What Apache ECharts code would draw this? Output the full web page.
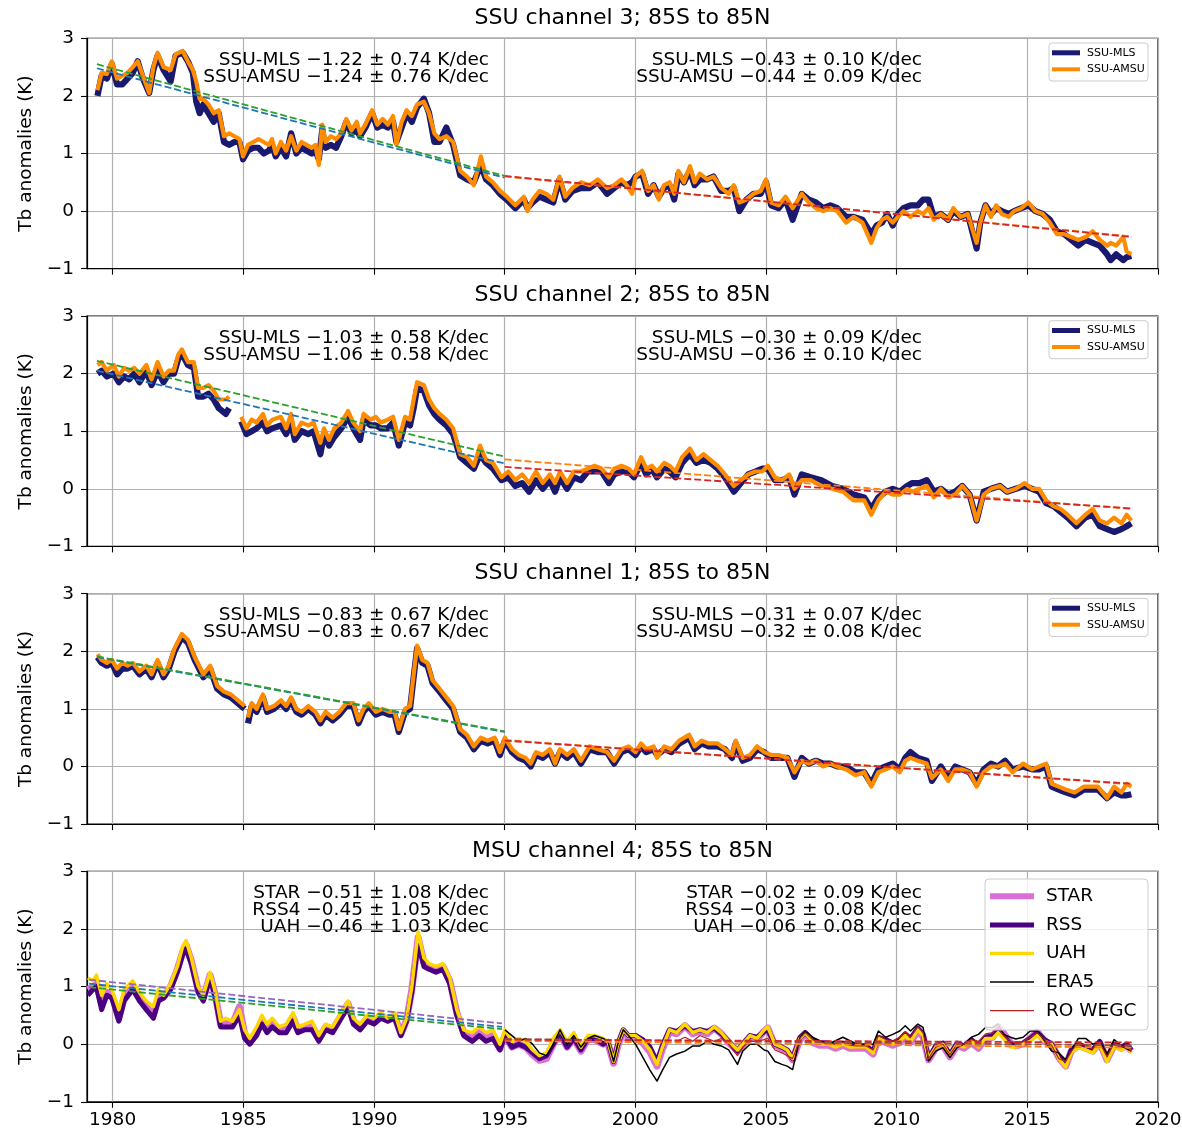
<!DOCTYPE html>
<html><head><meta charset="utf-8">
<script src="https://cdn.jsdelivr.net/npm/echarts@6/dist/echarts.min.js"></script>
<style>html,body{margin:0;padding:0;background:#fff}#c{width:1182px;height:1132px}</style>
</head><body><div id="c"></div><script>
// ---------------- DATA ----------------
const xTicks = [1980, 1985, 1990, 1995, 2000, 2005, 2010, 2015, 2020];
const yTicks = [-1, 0, 1, 2, 3];
const panelTitles = ['SSU channel 3; 85S to 85N', 'SSU channel 2; 85S to 85N', 'SSU channel 1; 85S to 85N', 'MSU channel 4; 85S to 85N'];

// SSU channel 3
const ch3_years = [
1979.42,1979.58,1979.78,1979.97,1980.17,1980.37,1980.57,1980.77,1980.96,1981.16,
1981.40,1981.56,1981.72,1981.95,1982.22,1982.41,1982.68,1982.88,1983.07,1983.20,
1983.33,1983.47,1983.67,1983.87,1984.06,1984.26,1984.46,1984.66,1984.85,1984.99,
1985.18,1985.38,1985.58,1985.78,1985.98,1986.10,1986.24,1986.44,1986.64,1986.83,
1987.03,1987.23,1987.42,1987.62,1987.76,1987.89,1988.02,1988.15,1988.35,1988.55,
1988.75,1988.94,1989.14,1989.34,1989.47,1989.67,1989.93,1990.13,1990.33,1990.53,
1990.73,1990.86,1991.06,1991.25,1991.45,1991.65,1991.91,1992.11,1992.31,1992.51,
1992.77,1993.03,1993.30,1993.56,1993.82,1994.09,1994.29,1994.55,1994.82,1995.08,
1995.41,1995.74,1995.87,1996.07,1996.33,1996.60,1996.86,1997.10,1997.32,1997.59,
1997.92,1998.25,1998.57,1998.92,1999.19,1999.47,1999.67,1999.88,2000.01,2000.26,
2000.49,2000.70,2000.90,2001.10,2001.31,2001.49,2001.65,2001.86,2002.09,2002.27,
2002.47,2002.75,2002.99,2003.29,2003.57,2003.77,2003.98,2004.25,2004.52,2004.80,
2005.00,2005.20,2005.48,2005.75,2006.02,2006.37,2006.64,2006.91,2007.19,2007.46,
2007.73,2008.07,2008.35,2008.69,2009.03,2009.23,2009.44,2009.64,2009.85,2010.05,
2010.26,2010.53,2010.81,2011.01,2011.22,2011.42,2011.69,2011.97,2012.17,2012.45,
2012.72,2012.92,2013.06,2013.20,2013.40,2013.61,2013.81,2014.02,2014.29,2014.49,
2014.77,2015.04,2015.31,2015.59,2015.86,2016.13,2016.41,2016.68,2016.95,2017.23,
2017.50,2017.77,2018.05,2018.19,2018.40,2018.67,2018.80,2018.98];
const ch3_mls = [
2.00,2.35,2.30,2.55,2.20,2.20,2.30,2.40,2.60,2.30,
2.05,2.45,2.70,2.45,2.25,2.70,2.75,2.60,2.40,1.90,
1.70,1.85,1.70,1.55,1.70,1.20,1.15,1.20,1.20,0.90,
1.05,1.10,1.10,1.00,1.05,1.15,0.95,1.10,0.95,1.35,
1.00,1.10,1.05,1.00,1.05,0.90,1.40,1.10,1.15,1.10,
1.30,1.55,1.35,1.40,1.30,1.45,1.70,1.45,1.50,1.45,
1.55,1.20,1.45,1.70,1.55,1.80,1.95,1.70,1.20,1.20,
1.45,1.15,0.62,0.55,0.50,0.80,0.55,0.45,0.30,0.20,
0.05,0.20,0.05,0.15,0.25,0.20,0.15,0.55,0.20,0.35,
0.40,0.40,0.50,0.30,0.40,0.50,0.45,0.50,0.60,0.65,
0.30,0.45,0.25,0.40,0.45,0.20,0.65,0.50,0.70,0.45,
0.55,0.55,0.60,0.35,0.35,0.40,0.00,0.20,0.30,0.30,
0.50,0.10,0.05,0.20,-0.15,0.30,0.20,0.15,0.05,0.10,
0.05,-0.10,-0.10,-0.15,-0.40,-0.25,-0.20,-0.05,-0.25,-0.05,
0.05,0.10,0.10,0.20,0.20,-0.10,-0.05,-0.15,0.00,-0.10,
-0.05,-0.40,-0.65,-0.20,0.10,-0.05,0.05,0.00,-0.05,0.00,
0.05,0.10,0.00,-0.05,-0.15,-0.35,-0.40,-0.50,-0.60,-0.50,
-0.55,-0.60,-0.75,-0.85,-0.75,-0.85,-0.80,-0.78];
const ch3_amsu = [
2.10,2.40,2.38,2.60,2.30,2.35,2.40,2.50,2.60,2.35,
2.05,2.50,2.75,2.50,2.45,2.72,2.78,2.60,2.45,2.25,
1.95,1.95,1.85,1.70,1.75,1.30,1.35,1.30,1.25,0.95,
1.15,1.20,1.25,1.20,1.15,1.25,1.00,1.20,1.05,1.30,
1.05,1.20,1.15,1.10,1.15,0.80,1.50,1.20,1.30,1.25,
1.35,1.60,1.40,1.55,1.35,1.50,1.75,1.50,1.60,1.50,
1.65,1.15,1.55,1.75,1.65,1.85,1.90,1.70,1.35,1.25,
1.30,1.20,0.70,0.60,0.45,0.95,0.60,0.50,0.35,0.25,
0.10,0.25,0.00,0.20,0.35,0.30,0.20,0.60,0.25,0.40,
0.50,0.45,0.55,0.40,0.45,0.55,0.45,0.30,0.60,0.70,
0.35,0.45,0.20,0.45,0.50,0.30,0.70,0.50,0.78,0.50,
0.65,0.55,0.60,0.40,0.30,0.45,0.15,0.20,0.30,0.35,
0.55,0.15,0.10,0.25,0.05,0.30,0.15,0.05,0.00,0.05,
0.00,-0.20,-0.10,-0.20,-0.55,-0.30,-0.15,-0.10,-0.20,-0.10,
0.00,-0.10,0.00,-0.05,0.05,-0.15,-0.05,-0.15,0.05,-0.10,
-0.05,-0.35,-0.55,-0.20,0.10,-0.10,0.10,-0.05,-0.10,0.00,
0.05,0.15,0.00,-0.05,-0.20,-0.40,-0.40,-0.45,-0.50,-0.45,
-0.35,-0.50,-0.60,-0.55,-0.60,-0.45,-0.70,-0.75];
const ch3_trend_mls_early = [[1979.4, 2.48], [1995.0, 0.58]];
const ch3_trend_amsu_early = [[1979.4, 2.55], [1995.0, 0.61]];
const ch3_trend_mls_late = [[1995.0, 0.61], [2019.0, -0.45]];
const ch3_trend_amsu_late = [[1995.0, 0.60], [2019.0, -0.44]];

// SSU channel 2
const ch2_years = [
1979.42,1979.58,1979.78,1980.04,1980.24,1980.44,1980.63,1980.83,1981.03,1981.29,
1981.49,1981.72,1981.95,1982.15,1982.35,1982.51,1982.65,1982.88,1983.11,1983.27,
1983.47,1983.67,1983.87,1984.06,1984.33,1984.46,1984.70,1984.92,1985.12,1985.32,
1985.51,1985.75,1985.91,1986.11,1986.44,1986.64,1986.83,1986.97,1987.23,1987.49,
1987.69,1987.95,1988.09,1988.28,1988.48,1988.75,1989.01,1989.21,1989.47,1989.60,
1989.87,1990.07,1990.26,1990.53,1990.73,1990.95,1991.19,1991.38,1991.52,1991.65,
1991.91,1992.11,1992.31,1992.51,1992.77,1993.03,1993.30,1993.56,1993.82,1994.06,
1994.29,1994.55,1994.88,1995.14,1995.41,1995.67,1995.94,1996.20,1996.46,1996.73,
1996.93,1997.12,1997.39,1997.65,1997.92,1998.18,1998.44,1998.71,1998.99,1999.19,
1999.47,1999.74,1999.95,2000.22,2000.42,2000.63,2000.83,2001.11,2001.31,2001.54,
2001.79,2002.09,2002.34,2002.61,2002.88,2003.15,2003.43,2003.77,2004.04,2004.32,
2004.59,2004.86,2005.07,2005.34,2005.61,2005.89,2006.09,2006.37,2006.71,2007.12,
2007.53,2007.94,2008.35,2008.76,2009.03,2009.30,2009.58,2009.85,2010.12,2010.40,
2010.60,2010.87,2011.15,2011.42,2011.69,2011.97,2012.24,2012.51,2012.79,2013.06,
2013.33,2013.61,2013.95,2014.22,2014.56,2014.90,2015.18,2015.45,2015.72,2016.00,
2016.27,2016.54,2016.88,2017.22,2017.50,2017.77,2018.05,2018.32,2018.60,2018.80,
2018.98];
const ch2_mls = [
2.00,2.05,1.95,2.00,1.85,1.95,1.90,2.00,1.85,2.05,
1.80,2.05,1.85,2.00,2.00,2.25,2.35,2.15,2.10,1.60,
1.60,1.65,1.55,1.40,1.30,1.40,null,1.17,0.95,1.00,
1.05,1.15,1.00,1.05,1.10,0.95,1.15,0.85,1.00,0.95,
1.00,0.60,0.95,0.75,0.90,1.05,1.25,1.05,0.85,1.20,
1.10,1.10,1.05,1.05,1.15,0.75,1.15,1.10,1.40,1.75,
1.70,1.45,1.30,1.20,1.10,0.95,0.55,0.45,0.35,0.60,
0.45,0.35,0.15,0.20,0.05,0.10,-0.05,0.15,0.00,0.15,
-0.05,0.20,0.00,0.20,0.15,0.30,0.30,0.30,0.10,0.25,
0.30,0.30,0.20,0.45,0.25,0.35,0.20,0.35,0.30,0.20,
0.45,0.60,0.45,0.50,0.45,0.35,0.20,-0.05,0.10,0.25,
0.30,0.35,0.35,0.15,0.15,0.20,-0.10,0.25,0.20,0.15,
0.05,0.00,-0.10,-0.15,-0.35,-0.15,-0.05,0.00,-0.05,0.05,
0.10,0.10,0.15,-0.05,0.00,-0.10,-0.05,0.05,-0.10,-0.55,
-0.05,0.00,0.05,-0.05,0.00,0.05,0.00,-0.05,-0.25,-0.30,
-0.40,-0.50,-0.65,-0.50,-0.45,-0.65,-0.70,-0.75,-0.70,-0.65,
-0.60];
const ch2_amsu = [
2.15,2.20,2.05,2.15,1.95,2.10,2.05,2.10,2.00,2.15,
1.90,2.20,1.95,2.05,2.05,2.33,2.42,2.20,2.20,1.75,
1.75,1.80,1.70,1.55,1.55,1.60,null,1.25,1.05,1.20,
1.15,1.30,1.10,1.20,1.25,1.05,1.30,0.95,1.15,1.10,
1.15,0.80,1.05,0.85,1.05,1.15,1.35,1.15,1.00,1.30,
1.20,1.25,1.15,1.20,1.25,0.85,1.25,1.20,1.55,1.85,
1.80,1.55,1.40,1.30,1.20,1.05,0.60,0.55,0.40,0.75,
0.50,0.45,0.20,0.30,0.15,0.25,0.10,0.30,0.10,0.25,
0.10,0.30,0.10,0.30,0.30,0.35,0.40,0.35,0.20,0.35,
0.40,0.35,0.25,0.55,0.35,0.40,0.30,0.45,0.40,0.30,
0.55,0.70,0.50,0.60,0.50,0.40,0.25,0.05,0.15,0.25,
0.30,0.30,0.40,0.20,0.15,0.25,0.00,0.15,0.15,0.05,
0.00,-0.05,-0.20,-0.20,-0.45,-0.20,-0.05,-0.10,-0.10,0.00,
-0.05,0.00,0.05,-0.15,0.00,-0.15,-0.10,0.05,-0.10,-0.55,
-0.10,0.00,0.05,-0.05,0.00,0.10,0.00,0.00,-0.20,-0.30,
-0.35,-0.45,-0.60,-0.45,-0.35,-0.55,-0.60,-0.50,-0.60,-0.45,
-0.55];
const ch2_trend_mls_early = [[1979.4, 2.05], [1995.0, 0.44]];
const ch2_trend_amsu_early = [[1979.4, 2.22], [1995.0, 0.56]];
const ch2_trend_mls_late = [[1995.0, 0.38], [2019.0, -0.34]];
const ch2_trend_amsu_late = [[1995.0, 0.51], [2019.0, -0.35]];

// SSU channel 1
const ch1_years = [
1979.42,1979.58,1979.78,1979.97,1980.17,1980.37,1980.57,1980.77,1981.03,1981.29,
1981.49,1981.72,1981.95,1982.15,1982.37,1982.65,1982.88,1983.14,1983.47,1983.73,
1984.00,1984.26,1984.53,1984.79,1985.05,1985.10,1985.18,1985.32,1985.51,1985.75,
1985.91,1986.17,1986.44,1986.64,1986.83,1987.03,1987.23,1987.49,1987.76,1987.95,
1988.15,1988.42,1988.68,1988.94,1989.21,1989.41,1989.60,1989.80,1990.07,1990.33,
1990.59,1990.79,1990.95,1991.19,1991.38,1991.52,1991.65,1991.85,1992.05,1992.24,
1992.51,1992.77,1993.03,1993.30,1993.56,1993.82,1994.09,1994.35,1994.62,1994.82,
1995.01,1995.28,1995.54,1995.80,1996.00,1996.20,1996.46,1996.73,1996.93,1997.12,
1997.39,1997.65,1997.92,1998.25,1998.57,1998.92,1999.19,1999.47,1999.74,2000.01,
2000.22,2000.42,2000.70,2000.83,2001.11,2001.38,2001.68,2002.06,2002.27,2002.54,
2002.81,2003.15,2003.43,2003.70,2003.84,2004.11,2004.39,2004.66,2004.93,2005.20,
2005.48,2005.82,2006.09,2006.37,2006.64,2006.91,2007.19,2007.46,2007.73,2008.07,
2008.42,2008.76,2009.03,2009.30,2009.58,2009.85,2010.12,2010.33,2010.53,2010.81,
2011.15,2011.35,2011.69,2011.97,2012.24,2012.51,2012.79,2013.06,2013.33,2013.61,
2013.88,2014.15,2014.43,2014.84,2015.18,2015.45,2015.72,2015.93,2016.20,2016.47,
2016.81,2017.16,2017.43,2017.70,2018.05,2018.32,2018.60,2018.80,2018.98];
const ch1_mls = [
1.90,1.80,1.75,1.80,1.60,1.70,1.70,1.75,1.60,1.70,
1.55,1.80,1.55,1.70,2.00,2.25,2.15,1.85,1.55,1.70,
1.35,1.25,1.20,1.10,1.00,null,0.75,1.05,0.95,1.20,
0.95,1.00,1.10,1.00,1.15,0.95,0.90,1.00,0.90,0.75,
0.90,0.80,0.90,1.05,1.05,0.75,0.95,1.05,0.90,0.95,
0.90,0.90,0.60,0.95,1.00,1.55,2.05,1.80,1.75,1.45,
1.30,1.15,1.00,0.60,0.50,0.30,0.45,0.40,0.45,0.20,
0.45,0.25,0.15,0.10,0.00,0.20,0.15,0.25,0.05,0.25,
0.15,0.25,0.05,0.30,0.25,0.25,0.05,0.25,0.30,0.20,
0.35,0.25,0.30,0.20,0.30,0.25,0.40,0.50,0.30,0.40,
0.35,0.35,0.30,0.15,0.40,0.10,0.15,0.30,0.25,0.15,
0.15,0.15,-0.18,0.15,0.05,0.10,0.05,0.05,0.00,0.00,
-0.10,-0.10,-0.30,-0.05,0.00,0.05,-0.05,0.15,0.25,0.15,
0.10,-0.25,0.00,-0.20,0.00,-0.05,-0.10,-0.30,-0.05,0.05,
0.00,0.10,-0.05,0.00,-0.05,-0.05,0.00,-0.35,-0.40,-0.45,
-0.50,-0.40,-0.40,-0.40,-0.55,-0.45,-0.50,-0.50,-0.48];
const ch1_amsu = [
1.95,1.85,1.80,1.85,1.70,1.80,1.75,1.80,1.65,1.75,
1.60,1.85,1.60,1.75,2.05,2.30,2.20,1.90,1.60,1.75,
1.40,1.30,1.25,1.15,1.05,null,0.85,1.10,1.00,1.25,
1.00,1.05,1.15,1.05,1.20,1.00,0.95,1.05,0.95,0.80,
0.95,0.85,0.95,1.10,1.10,0.80,1.00,1.10,0.95,1.00,
0.95,0.95,0.65,1.00,1.05,1.60,2.10,1.85,1.80,1.50,
1.35,1.20,1.05,0.65,0.55,0.35,0.50,0.45,0.50,0.25,
0.50,0.30,0.20,0.15,0.05,0.25,0.20,0.30,0.05,0.30,
0.20,0.30,0.10,0.35,0.30,0.25,0.10,0.30,0.35,0.25,
0.40,0.30,0.35,0.15,0.35,0.30,0.45,0.55,0.35,0.45,
0.40,0.40,0.30,0.20,0.45,0.15,0.20,0.35,0.25,0.20,
0.20,0.15,-0.10,0.10,0.05,0.10,0.00,0.05,0.00,-0.05,
-0.15,-0.10,-0.35,-0.10,-0.05,0.00,-0.10,0.10,0.15,0.10,
0.05,-0.20,-0.05,-0.25,-0.05,-0.05,-0.10,-0.35,-0.10,0.00,
0.00,0.05,-0.10,0.05,-0.05,0.00,0.05,-0.30,-0.35,-0.40,
-0.45,-0.35,-0.35,-0.35,-0.55,-0.35,-0.45,-0.30,-0.35];
const ch1_trend_mls_early = [[1979.4, 1.90], [1995.0, 0.60]];
const ch1_trend_amsu_early = [[1979.4, 1.91], [1995.0, 0.61]];
const ch1_trend_mls_late = [[1995.0, 0.45], [2019.0, -0.30]];
const ch1_trend_amsu_late = [[1995.0, 0.46], [2019.0, -0.31]];

// MSU channel 4
const msu_years = [
1979.05,1979.25,1979.38,1979.58,1979.78,1979.97,1980.24,1980.44,1980.77,1981.03,
1981.29,1981.56,1981.75,1981.95,1982.22,1982.48,1982.68,1982.81,1983.01,1983.27,
1983.47,1983.73,1983.93,1984.13,1984.33,1984.59,1984.85,1985.05,1985.25,1985.51,
1985.71,1985.91,1986.11,1986.37,1986.64,1986.90,1987.09,1987.36,1987.63,1987.89,
1988.15,1988.42,1988.75,1989.01,1989.21,1989.47,1989.74,1990.00,1990.26,1990.53,
1990.79,1991.03,1991.25,1991.45,1991.69,1991.91,1992.11,1992.37,1992.64,1992.90,
1993.17,1993.43,1993.76,1994.02,1994.29,1994.55,1994.82,1995.01,1995.28,1995.54,
1995.80,1996.07,1996.33,1996.60,1996.86,1997.12,1997.39,1997.65,1997.92,1998.18,
1998.44,1998.77,1998.95,1999.17,1999.33,1999.54,1999.74,2000.01,2000.29,2000.56,
2000.83,2001.04,2001.31,2001.58,2001.90,2002.20,2002.47,2002.75,2003.02,2003.29,
2003.57,2003.91,2004.11,2004.39,2004.66,2004.93,2005.07,2005.34,2005.61,2005.81,
2006.02,2006.30,2006.50,2006.78,2007.05,2007.39,2007.66,2007.94,2008.21,2008.49,
2008.83,2009.10,2009.30,2009.58,2009.85,2010.12,2010.33,2010.53,2010.81,2011.01,
2011.22,2011.50,2011.77,2012.04,2012.31,2012.58,2012.86,2013.13,2013.40,2013.68,
2013.88,2014.08,2014.36,2014.56,2014.84,2015.11,2015.38,2015.66,2015.93,2016.20,
2016.47,2016.68,2016.95,2017.23,2017.50,2017.77,2018.05,2018.32,2018.60,2018.80,
2018.98];
const msu_star = [
0.95,1.00,1.05,0.70,0.90,0.85,0.45,0.80,1.00,0.80,
0.65,0.50,0.80,0.82,1.00,1.30,1.60,1.72,1.45,0.95,
0.80,1.20,0.85,0.35,0.38,0.35,0.65,0.18,0.05,0.22,
0.40,0.27,0.37,0.25,0.27,0.47,0.25,0.30,0.32,0.10,
0.30,0.25,0.50,0.70,0.40,0.30,0.45,0.40,0.50,0.42,
0.50,0.17,0.42,0.95,1.85,1.42,1.35,1.30,1.35,1.10,
0.55,0.20,0.10,0.20,0.10,0.15,-0.08,0.15,-0.05,0.00,
-0.05,-0.18,-0.28,-0.25,0.00,0.18,-0.05,0.10,-0.12,0.08,
0.08,0.00,0.02,-0.33,-0.03,0.22,0.12,0.12,0.02,-0.13,
-0.38,-0.08,0.22,0.18,0.32,0.18,0.23,0.18,0.28,0.18,
0.03,-0.12,-0.02,0.13,0.08,0.23,0.28,-0.02,-0.07,-0.12,
-0.27,0.08,0.18,0.03,-0.02,-0.02,-0.07,-0.02,-0.07,-0.07,
-0.07,-0.17,0.08,0.03,-0.02,0.03,0.13,0.03,0.23,0.13,
-0.27,-0.07,-0.02,-0.22,-0.02,-0.07,0.03,-0.07,0.10,0.12,
0.30,0.20,0.02,-0.03,0.00,0.10,0.22,0.05,0.00,-0.23,
-0.38,-0.12,-0.02,-0.07,-0.12,0.02,-0.27,-0.02,-0.07,-0.02,
-0.12];
const msu_rss = [
0.85,0.95,1.00,0.60,0.85,0.80,0.40,0.75,0.95,0.75,
0.60,0.45,0.75,0.80,0.95,1.25,1.55,1.65,1.40,0.90,
0.75,1.15,0.80,0.30,0.30,0.30,0.50,0.10,0.00,0.15,
0.35,0.20,0.30,0.20,0.20,0.40,0.20,0.25,0.25,0.05,
0.25,0.20,0.45,0.65,0.35,0.25,0.40,0.35,0.45,0.40,
0.45,0.15,0.40,0.90,1.75,1.35,1.30,1.25,1.30,1.05,
0.50,0.15,0.05,0.15,0.05,0.10,-0.10,0.15,-0.05,0.00,
-0.05,-0.15,-0.25,-0.20,0.00,0.20,-0.05,0.10,-0.10,0.10,
0.10,0.00,0.05,-0.30,0.00,0.25,0.15,0.15,0.08,-0.05,
-0.30,-0.02,0.25,0.22,0.32,0.22,0.25,0.22,0.28,0.18,
0.05,-0.12,0.00,0.15,0.12,0.22,0.25,0.00,-0.05,-0.10,
-0.25,0.12,0.20,0.08,0.03,0.02,-0.02,0.02,-0.02,-0.03,
-0.03,-0.12,0.12,0.08,0.02,0.08,0.18,0.10,0.28,0.18,
-0.25,-0.02,0.02,-0.18,0.02,-0.03,0.08,-0.02,0.12,0.15,
0.25,0.15,0.00,-0.02,0.02,0.10,0.20,0.08,0.00,-0.22,
-0.35,-0.10,0.00,-0.05,-0.10,0.05,-0.25,0.00,-0.05,0.00,
-0.10];
const msu_uah = [
1.15,1.10,1.20,0.85,1.05,0.95,0.60,0.95,1.10,0.90,
0.75,0.65,0.95,0.85,1.05,1.35,1.70,1.80,1.50,1.00,
0.85,1.25,0.90,0.40,0.45,0.40,0.60,0.25,0.10,0.30,
0.50,0.35,0.45,0.30,0.35,0.55,0.30,0.35,0.40,0.15,
0.35,0.30,0.55,0.75,0.45,0.35,0.50,0.45,0.55,0.45,
0.55,0.20,0.45,1.00,1.95,1.50,1.40,1.35,1.40,1.15,
0.60,0.25,0.20,0.30,0.20,0.25,0.00,0.25,0.05,0.10,
0.05,-0.10,-0.20,-0.15,0.10,0.25,0.05,0.20,-0.05,0.15,
0.15,0.10,0.05,-0.30,0.00,0.25,0.15,0.15,0.05,-0.10,
-0.35,-0.05,0.25,0.20,0.35,0.20,0.25,0.20,0.30,0.20,
0.05,-0.10,0.00,0.15,0.10,0.25,0.30,0.00,-0.05,-0.10,
-0.25,0.10,0.20,0.05,0.00,0.00,-0.05,0.00,-0.05,-0.05,
-0.05,-0.15,0.10,0.05,0.00,0.05,0.15,0.05,0.25,0.15,
-0.25,-0.05,0.00,-0.20,0.00,-0.05,0.05,-0.05,0.10,0.10,
0.20,0.10,-0.05,-0.05,0.00,0.05,0.15,0.05,0.00,-0.25,
-0.40,-0.15,-0.05,-0.10,-0.15,0.00,-0.30,-0.05,-0.10,-0.05,
-0.15];
const era5_years = msu_years.filter(y => y >= 1995);
const msu_era5 = [
0.25,0.15,0.05,
0.10,0.00,-0.15,-0.20,0.00,0.25,0.00,0.15,-0.05,0.10,
0.15,0.10,0.05,-0.30,0.00,0.25,0.15,0.00,-0.23,-0.45,
-0.64,-0.45,-0.23,-0.17,-0.12,-0.03,-0.03,0.05,0.00,-0.03,
-0.10,-0.35,-0.12,0.00,0.00,-0.10,-0.12,-0.30,-0.35,-0.38,
-0.44,0.12,0.23,0.12,0.06,0.00,0.06,0.12,0.06,0.00,
0.00,0.00,0.23,0.12,0.17,0.23,0.32,0.23,0.35,0.29,
-0.29,-0.12,-0.06,-0.23,-0.06,0.00,0.12,0.17,0.29,0.29,
0.35,0.17,0.12,0.09,0.12,0.23,0.23,0.06,-0.12,-0.15,
-0.27,-0.12,0.10,0.10,0.00,0.05,-0.17,0.08,-0.03,-0.08,
-0.12];
const ro_years = msu_years.filter(y => y >= 2001.5);
const msu_ro = [
0.05,0.12,0.05,0.15,0.10,0.05,0.10,
0.00,-0.20,-0.05,0.05,0.05,0.08,0.10,-0.10,-0.15,-0.20,
-0.25,0.10,0.20,0.08,0.03,0.02,0.00,0.03,-0.02,-0.03,
-0.03,-0.10,0.15,0.08,0.05,0.12,0.22,0.12,0.30,0.20,
-0.25,-0.05,0.00,-0.18,0.00,0.00,0.08,0.05,0.18,0.20,
0.30,0.15,0.05,0.02,0.05,0.12,0.20,0.08,-0.02,-0.25,
-0.30,-0.12,0.02,-0.02,-0.08,0.03,-0.22,0.02,-0.05,-0.03,
-0.12];
const msu_trend_star_early = [[1979.1, 1.12], [1994.9, 0.36]];
const msu_trend_rss_early = [[1979.1, 1.05], [1994.9, 0.30]];
const msu_trend_uah_early = [[1979.1, 0.99], [1994.9, 0.26]];
const msu_trend_star_late = [[1995.0, 0.08], [2019.0, 0.03]];
const msu_trend_rss_late = [[1995.0, 0.09], [2019.0, -0.02]];
const msu_trend_uah_late = [[1995.0, 0.06], [2019.0, -0.06]];

const annotLeft = [
  ['SSU-MLS −1.22 ± 0.74 K/dec', 'SSU-AMSU −1.24 ± 0.76 K/dec'],
  ['SSU-MLS −1.03 ± 0.58 K/dec', 'SSU-AMSU −1.06 ± 0.58 K/dec'],
  ['SSU-MLS −0.83 ± 0.67 K/dec', 'SSU-AMSU −0.83 ± 0.67 K/dec'],
  ['STAR −0.51 ± 1.08 K/dec', 'RSS4 −0.45 ± 1.05 K/dec', 'UAH −0.46 ± 1.03 K/dec']];
const annotRight = [
  ['SSU-MLS −0.43 ± 0.10 K/dec', 'SSU-AMSU −0.44 ± 0.09 K/dec'],
  ['SSU-MLS −0.30 ± 0.09 K/dec', 'SSU-AMSU −0.36 ± 0.10 K/dec'],
  ['SSU-MLS −0.31 ± 0.07 K/dec', 'SSU-AMSU −0.32 ± 0.08 K/dec'],
  ['STAR −0.02 ± 0.09 K/dec', 'RSS4 −0.03 ± 0.08 K/dec', 'UAH −0.06 ± 0.08 K/dec']];

// ---------------- LAYOUT / STYLE ----------------
const FONT = 'DejaVu Sans';
const X_MIN = 1979.02, X_MAX = 2020;
const GL = 87, GW = 1071, GH = 230.4;
const tops = [38.3, 316.0, 593.7, 871.4];
const C = {mls:'#191970', amsu:'#ff8c00', blue:'#1f77b4', green:'#2ca02c', red:'#d62728', orange:'#ff7f0e',
  purple:'#9467bd', brown:'#8c564b', star:'#da70d6', rss:'#4b0082', uah:'#ffd700', era5:'#000000', ro:'#b22222'};

const grids = tops.map(t => ({left: GL, top: t, width: GW, height: GH, show: true, borderColor: '#000', borderWidth: 1.2,
  backgroundColor: 'rgba(0,0,0,0)', containLabel: false, outerBoundsMode: 'none'}));
const xAxes = tops.map((t, i) => ({
  gridIndex: i, type: 'value', min: X_MIN, max: X_MAX,
  axisLine: {show: true, onZero: false, lineStyle: {color: '#000', width: 1.2}},
  axisTick: {show: true, length: 6, customValues: xTicks, lineStyle: {color: '#000', width: 1.1}},
  axisLabel: {show: i === 3, customValues: xTicks, color: '#000', fontSize: 18.5, fontFamily: FONT, margin: 9,
    formatter: v => String(Math.round(v))},
  splitLine: {show: true, lineStyle: {color: '#b0b0b0', width: 1.2}}
}));
const yAxes = tops.map((t, i) => ({
  gridIndex: i, type: 'value', min: yTicks[0], max: yTicks[yTicks.length - 1], interval: 1,
  axisLine: {show: true, onZero: false, lineStyle: {color: '#000', width: 1.2}},
  axisTick: {show: true, length: 6, lineStyle: {color: '#000', width: 1.1}},
  axisLabel: {color: '#000', fontSize: 18.5, fontFamily: FONT, margin: 13,
    formatter: v => (v < 0 ? '−' + Math.abs(v) : String(v))},
  splitLine: {show: true, lineStyle: {color: '#b0b0b0', width: 1.2}},
  name: 'Tb anomalies (K)', nameLocation: 'middle', nameGap: 51, nameRotate: 90, nameMoveOverlap: false,
  nameTextStyle: {color: '#000', fontSize: 18.5, fontFamily: FONT}
}));

function dataLine(name, i, xs, ys, color, width, z) {
  return {name, type: 'line', xAxisIndex: i, yAxisIndex: i,
    data: xs.map((x, k) => [x, ys[k] == null ? '-' : ys[k]]),
    showSymbol: false, symbol: 'none', connectNulls: false, silent: true, z,
    lineStyle: {color, width, join: 'round', cap: 'butt'}, itemStyle: {color}};
}
function trendLine(i, pts, color) {
  return {type: 'line', xAxisIndex: i, yAxisIndex: i, data: pts, showSymbol: false, symbol: 'none', silent: true, z: 6,
    lineStyle: {color, width: 1.8, type: [7, 3]}};
}

const series = [];
const ssu = [
  [ch3_years, ch3_mls, ch3_amsu, ch3_trend_mls_early, ch3_trend_amsu_early, ch3_trend_mls_late, ch3_trend_amsu_late],
  [ch2_years, ch2_mls, ch2_amsu, ch2_trend_mls_early, ch2_trend_amsu_early, ch2_trend_mls_late, ch2_trend_amsu_late],
  [ch1_years, ch1_mls, ch1_amsu, ch1_trend_mls_early, ch1_trend_amsu_early, ch1_trend_mls_late, ch1_trend_amsu_late]];
ssu.forEach((p, i) => {
  series.push(dataLine('SSU-MLS', i, p[0], p[1], C.mls, 6.2, 2));
  series.push(dataLine('SSU-AMSU', i, p[0], p[2], C.amsu, 4.2, 3));
  series.push(trendLine(i, p[3], C.blue));
  series.push(trendLine(i, p[4], C.green));
  series.push(trendLine(i, p[6], C.orange));
  series.push(trendLine(i, p[5], C.red));
});
series.push(dataLine('STAR', 3, msu_years, msu_star, C.star, 7, 2));
series.push(dataLine('RSS', 3, msu_years, msu_rss, C.rss, 5, 3));
series.push(dataLine('UAH', 3, msu_years, msu_uah, C.uah, 3.5, 4));
series.push(dataLine('ERA5', 3, era5_years, msu_era5, C.era5, 1.5, 5));
series.push(dataLine('RO WEGC', 3, ro_years, msu_ro, C.ro, 1.2, 5));
series.push(trendLine(3, msu_trend_star_early, C.purple));
series.push(trendLine(3, msu_trend_rss_early, C.blue));
series.push(trendLine(3, msu_trend_uah_early, C.green));
series.push(trendLine(3, msu_trend_uah_late, C.orange));
series.push(trendLine(3, msu_trend_rss_late, C.brown));
series.push(trendLine(3, msu_trend_star_late, C.red));

// graphic: annotations + legends
const graphic = [];
const TXT = '18.5px "DejaVu Sans"';
tops.forEach((t, i) => {
  annotLeft[i].forEach((s, k) => graphic.push({type: 'text', x: 489, y: t + 21.7 + 17 * k, z: 50,
    style: {text: s, font: TXT, fill: '#000', align: 'right', verticalAlign: 'middle'}}));
  annotRight[i].forEach((s, k) => graphic.push({type: 'text', x: 922, y: t + 21.7 + 17 * k, z: 50,
    style: {text: s, font: TXT, fill: '#000', align: 'right', verticalAlign: 'middle'}}));
});
[0, 1, 2].forEach(i => {
  const t = tops[i];
  graphic.push({type: 'rect', z: 60, shape: {x: 1049, y: t + 4.7, width: 99, height: 38, r: 3},
    style: {fill: 'rgba(255,255,255,0.8)', stroke: '#cccccc', lineWidth: 1}});
  [['SSU-MLS', C.mls, 5], ['SSU-AMSU', C.amsu, 4]].forEach((e, k) => {
    const y = t + 14.5 + 16.5 * k;
    graphic.push({type: 'line', z: 61, shape: {x1: 1052, y1: y, x2: 1080, y2: y}, style: {stroke: e[1], lineWidth: e[2]}});
    graphic.push({type: 'text', z: 61, x: 1087, y: y, style: {text: e[0], font: '11px "DejaVu Sans"', fill: '#000', verticalAlign: 'middle'}});
  });
});
{
  const t = tops[3];
  graphic.push({type: 'rect', z: 60, shape: {x: 985, y: t + 7.6, width: 163, height: 151, r: 4},
    style: {fill: 'rgba(255,255,255,0.8)', stroke: '#cccccc', lineWidth: 1}});
  [['STAR', C.star, 6], ['RSS', C.rss, 5], ['UAH', C.uah, 3.5], ['ERA5', C.era5, 1.5], ['RO WEGC', C.ro, 1.2]].forEach((e, k) => {
    const y = t + 24.9 + 28.6 * k;
    graphic.push({type: 'line', z: 61, shape: {x1: 990, y1: y, x2: 1034, y2: y}, style: {stroke: e[1], lineWidth: e[2]}});
    graphic.push({type: 'text', z: 61, x: 1046, y: y, style: {text: e[0], font: TXT, fill: '#000', verticalAlign: 'middle'}});
  });
}

const option = {
  animation: false,
  backgroundColor: '#ffffff',
  textStyle: {fontFamily: FONT},
  title: tops.map((t, i) => ({text: panelTitles[i], left: GL + GW / 2, top: t - 31.5, textAlign: 'center', padding: 0,
    textStyle: {fontSize: 22, fontWeight: 'normal', color: '#000', fontFamily: FONT}})),
  grid: grids, xAxis: xAxes, yAxis: yAxes, series, graphic
};
const chart = echarts.init(document.getElementById('c'), null, {renderer: 'canvas'});
chart.setOption(option);
</script></body></html>
